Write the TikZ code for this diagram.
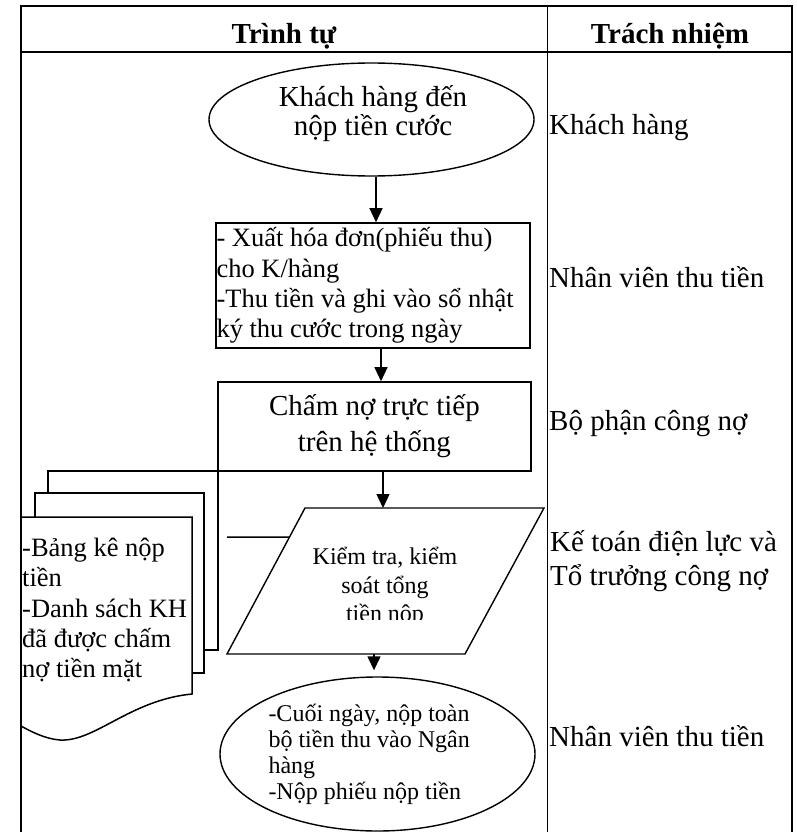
\documentclass[tikz,border=0pt]{standalone}
\usepackage{fontspec}
\setmainfont{Liberation Serif}
\usetikzlibrary{arrows.meta,positioning,shapes.geometric,calc}
\newcommand{\headfont}{\fontsize{29}{34}\selectfont\bfseries}
\newcommand{\bigfont}{\fontsize{29}{29}\selectfont}
\newcommand{\boxfont}{\fontsize{26.5}{30.3}\selectfont}
\newcommand{\smallfont}{\fontsize{24}{28.3}\selectfont}
\newcommand{\notefont}{\fontsize{24}{26}\selectfont}

\begin{document}
\begin{tikzpicture}[x=1pt, y=-1pt,
  tbl/.style={line width=1.8pt},
  tbox/.style={draw, line width=1.6pt, inner xsep=0.5pt, inner ysep=0pt},
  ell/.style={draw, ellipse, line width=1.4pt, inner sep=0pt},
  para/.style={draw, line width=1.4pt, line join=miter},
  doc/.style={line width=1.5pt},
  lbl/.style={font=\bigfont, inner sep=0pt},
  arr/.style={-{Triangle[length=14pt,width=13pt]}, line width=1.4pt}]
\useasboundingbox (0,0) rectangle (796,832);
% table
\draw[tbl] (21,832) |- (792,6) -- (792,832);
\draw[tbl] (21,52) -- (792,52);
\draw[tbl] (547.5,6) -- (547.5,832);
\node[anchor=base, font=\headfont, inner sep=0pt] (hseq) at (284,43.3) {Trình tự};
\node[anchor=base, font=\headfont, inner sep=0pt] (hresp) at (670,43.3) {Trách nhiệm};

% flow
\node[ell, minimum width=325pt, minimum height=113pt] (khach) at (371.5,119.5) {};
\node[align=center, font=\bigfont, inner sep=0pt] (khachtxt) at (373,114) {Khách hàng đến\\nộp tiền cước};
\node[tbox, minimum width=314pt, minimum height=125pt, text width=313pt, align=flush left,
      font=\boxfont] (hoadon) at (373,285.5)
  {- Xuất hóa đơn(phiếu thu)\\cho K/hàng\\-Thu tiền và ghi vào sổ nhật\\ký thu cước trong ngày};
\node[tbox, minimum width=313pt, minimum height=89pt, align=center,
      font=\fontsize{29}{36}\selectfont] (chamno) at (374.4,426.5)
  {Chấm nợ trực tiếp\\trên hệ thống};
% check (parallelogram)
\coordinate (kiemTL) at (305,508);
\coordinate (kiemTR) at (544,508);
\coordinate (kiemBR) at (465,654);
\coordinate (kiemBL) at (227,654);
\draw[para] (kiemTL) -- (kiemTR) -- (kiemBR) -- (kiemBL) -- cycle;
\begin{scope}
  \clip (200,500) rectangle (560,619);
  \node[align=center, font=\smallfont, inner sep=0pt] (kiemtra) at (385,587)
    {Kiểm tra, kiểm\\soát tổng\\tiền nộp};
\end{scope}
\node[ell, minimum width=315pt, minimum height=154pt, text width=218pt, align=flush left,
      font=\notefont] (nganhang) at (377.5,754)
  {-Cuối ngày, nộp toàn\\bộ tiền thu vào Ngân\\hàng\\-Nộp phiếu nộp tiền};

% document stack
\draw[doc] (48,493) |- (218,471) -- (218,650) -- (204,650);
\draw[doc] (35,517) |- (204,493) -- (204,673) -- (192,673);
\draw[doc] (21,517) -- (192,517) -- (192,694)
  .. controls (130,700) and (95,742) .. (60,740)
  .. controls (45,739) and (30,731) .. (21,726);
\node[anchor=west, align=left, font=\boxfont, inner sep=0pt] (bangke) at (22,610)
  {-Bảng kê nộp\\tiền\\-Danh sách KH\\đã được chấm\\nợ tiền mặt};
\coordinate (kiemtail) at (227,537);
\draw[doc] (kiemtail) -- ($(kiemBL)!0.8!(kiemTL)$);

% arrows
\coordinate (kiemout) at (374,654);
\draw[arr] ([xshift=4.5pt]khach.south) -- ([xshift=4.5pt]khach.south |- hoadon.north);
\draw[arr] ([xshift=8pt]hoadon.south) -- ([xshift=8pt]hoadon.south |- chamno.north);
\draw[arr] ([xshift=8.6pt]chamno.south) -- ([xshift=8.6pt]chamno.south |- kiemTL);
\draw[arr, shorten >=6pt] (kiemout) -- (kiemout |- nganhang.north);

% responsibilities
\node[lbl, anchor=base west] (rkhach) at (549,135) {Khách hàng};
\node[lbl, anchor=base west] (rthu) at (549,287) {Nhân viên thu tiền};
\node[lbl, anchor=base west] (rcongno) at (549,430) {Bộ phận công nợ};
\node[lbl, anchor=west, align=left, font=\fontsize{29}{34}\selectfont] (rketoan) at (550,561)
  {Kế toán điện lực và\\Tổ trưởng công nợ};
\node[lbl, anchor=base west] (rthu2) at (549,746.7) {Nhân viên thu tiền};
\end{tikzpicture}
\end{document}
